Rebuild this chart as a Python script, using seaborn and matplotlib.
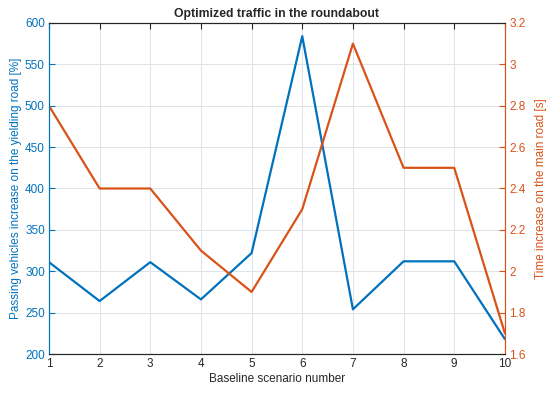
import pandas as pd
import matplotlib
matplotlib.use("Agg")
import matplotlib.pyplot as plt
import seaborn as sns

# --- データ ---
scenario = [1, 2, 3, 4, 5, 6, 7, 8, 9, 10]
vehicles_pct = [311, 264, 311, 266, 322, 584, 254, 312, 312, 218]
time_increase = [2.8, 2.4, 2.4, 2.1, 1.9, 2.3, 3.1, 2.5, 2.5, 1.7]

BLUE = "#0072BD"
ORANGE = "#D95319"

sns.set_style("white")
plt.rcParams["font.family"] = ["Liberation Sans", "DejaVu Sans"]
plt.rcParams["font.size"] = 8.5

df = pd.DataFrame({"scenario": scenario, "vehicles": vehicles_pct, "time": time_increase})

fig, ax = plt.subplots(figsize=(5.5, 3.96), dpi=100)
fig.subplots_adjust(left=0.089, right=0.918, top=0.942, bottom=0.106)
ax2 = ax.twinx()

sns.lineplot(data=df, x="scenario", y="vehicles", ax=ax, color=BLUE, linewidth=1.6)
sns.lineplot(data=df, x="scenario", y="time", ax=ax2, color=ORANGE, linewidth=1.6)

ax.set_xlim(1, 10)
ax.set_ylim(200, 600)
ax2.set_ylim(1.6, 3.2)
ax.set_xticks(scenario)
ax.set_yticks(range(200, 601, 50))
ax2.set_yticks([1.6, 1.8, 2.0, 2.2, 2.4, 2.6, 2.8, 3.0, 3.2])
ax2.set_yticklabels(["1.6", "1.8", "2", "2.2", "2.4", "2.6", "2.8", "3", "3.2"])

ax.grid(True, color="#dde3ea", linewidth=0.7)
ax.set_axisbelow(True)

ax.set_xlabel("Baseline scenario number", labelpad=2)
ax.set_ylabel("Passing vehicles increase on the yielding road [%]", color=BLUE, labelpad=2)
ax2.set_ylabel("Time increase on the main road [s]", color=ORANGE, labelpad=7)
ax.set_title("Optimized traffic in the roundabout", fontweight="bold", fontsize=8.8, pad=4)

# MATLAB風の枠線と目盛り
for a in (ax, ax2):
    a.spines["top"].set_color("#262626")
    a.spines["bottom"].set_color("#262626")
    a.spines["left"].set_color(BLUE)
    a.spines["right"].set_color(ORANGE)
    for s in a.spines.values():
        s.set_linewidth(0.8)
ax.tick_params(axis="x", direction="in", top=True, colors="#262626", length=4, pad=3)
ax.tick_params(axis="y", direction="in", colors=BLUE, length=4, pad=3)
ax2.tick_params(axis="y", direction="in", colors=ORANGE, length=4, pad=3)

fig.savefig("out.png", dpi=100)
